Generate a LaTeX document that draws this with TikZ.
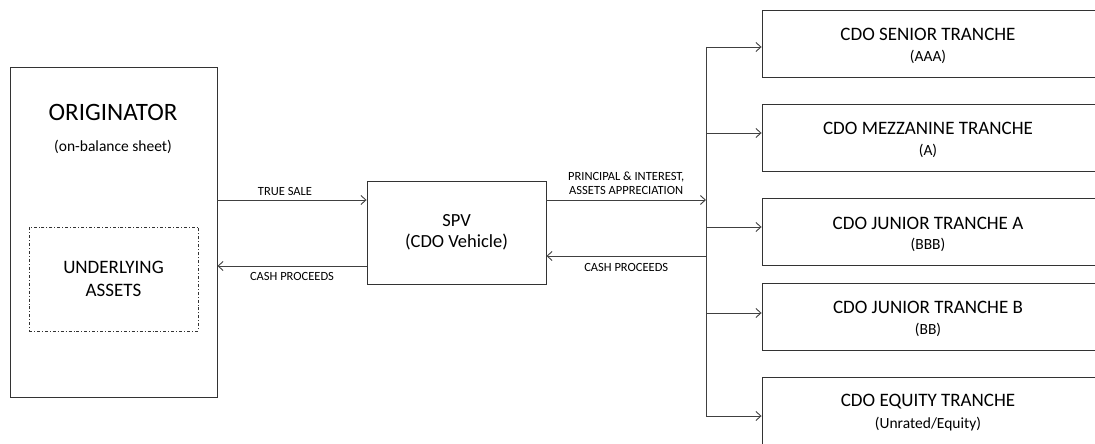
\documentclass[tikz,border=0pt]{standalone}
\usepackage{fontspec}
\setmainfont{Carlito}
\usetikzlibrary{arrows.meta, positioning, calc}

\tikzset{
    box/.style={draw=black!80, line width=0.9pt, rectangle, inner sep=0pt},
    arr/.style={draw=black!75, line width=0.9pt, -{Straight Barb[length=5pt, width=9pt]}},
    flowlabel/.style={font=\fontsize{12.5}{14}\selectfont, inner sep=0pt, align=center}
}

\begin{document}
\begin{tikzpicture}[x=1pt, y=-1pt]
                \useasboundingbox (0,0) rectangle (1095,444);
                % Originator
                \node[box, minimum width=207pt, minimum height=330pt] (orig) at (113.5,232) {};
                \node[font=\fontsize{25}{28}\selectfont] (origtitle) at (113,112) {ORIGINATOR};
                \node[font=\fontsize{15.5}{18}\selectfont] (origsub) at (113,147) {(on-balance sheet)};
                \node[box, dash dot, line width=0.7pt, minimum width=169pt, minimum height=104pt,
                      align=center, font=\fontsize{19}{23}\selectfont] (assets) at (113.5,279) {UNDERLYING\\ASSETS};
                % SPV
                \node[box, minimum width=179pt, minimum height=103pt, align=center,
                      font=\fontsize{18.5}{21}\selectfont] (spv) at (456.5,232.5) {SPV\\(CDO Vehicle)};
                % Tranchen
                \foreach \name/\title/\rating/\y in {senior/CDO SENIOR TRANCHE/(AAA)/43.5,
                                                   mezz/CDO MEZZANINE TRANCHE/(A)/137.5,
                                                   junA/CDO JUNIOR TRANCHE A/(BBB)/232,
                                                   junB/CDO JUNIOR TRANCHE B/(BB)/316.5,
                                                   equity/CDO EQUITY TRANCHE/{(Unrated/Equity)}/411}{
                    \node[box, minimum width=336pt, minimum height=67pt] (\name) at (930,\y) {};
                    \node[font=\fontsize{19}{22}\selectfont] (\name title) at (928,\y-9) {\title};
                    \node[font=\fontsize{15.5}{18}\selectfont] (\name sub) at (928,\y+13) {\rating};
                }
                % Verteiler
                \coordinate (trunktop) at (706,47);
                \coordinate (trunkbot) at (706,416);
                \coordinate (pin) at (706,200);
                \coordinate (pout) at (706,256);
                \draw[draw=black!75, line width=0.9pt] (trunktop) -- (trunkbot);
                \foreach \name/\y in {senior/47, mezz/133, junA/227, junB/313, equity/416}{
                    \draw[arr] (706,\y) -- (\name.west |- 0,\y);
                }
                % Flows
                \draw[arr] (orig.east |- 0,200) -- (spv.west |- 0,200)
                    node[flowlabel, midway, above=4pt, xshift=-7pt] (ts) {TRUE SALE};
                \draw[arr] (spv.west |- 0,266) -- (orig.east |- 0,266)
                    node[flowlabel, midway, below=6pt] (cpl) {CASH PROCEEDS};
                \draw[arr] (spv.east |- pin) -- (pin)
                    node[flowlabel, midway, above=5pt] (pi) {PRINCIPAL \& INTEREST,\\ASSETS APPRECIATION};
                \draw[arr] (pout) -- (spv.east |- pout)
                    node[flowlabel, midway, below=7pt] (cpr) {CASH PROCEEDS};
            \end{tikzpicture}
\end{document}
